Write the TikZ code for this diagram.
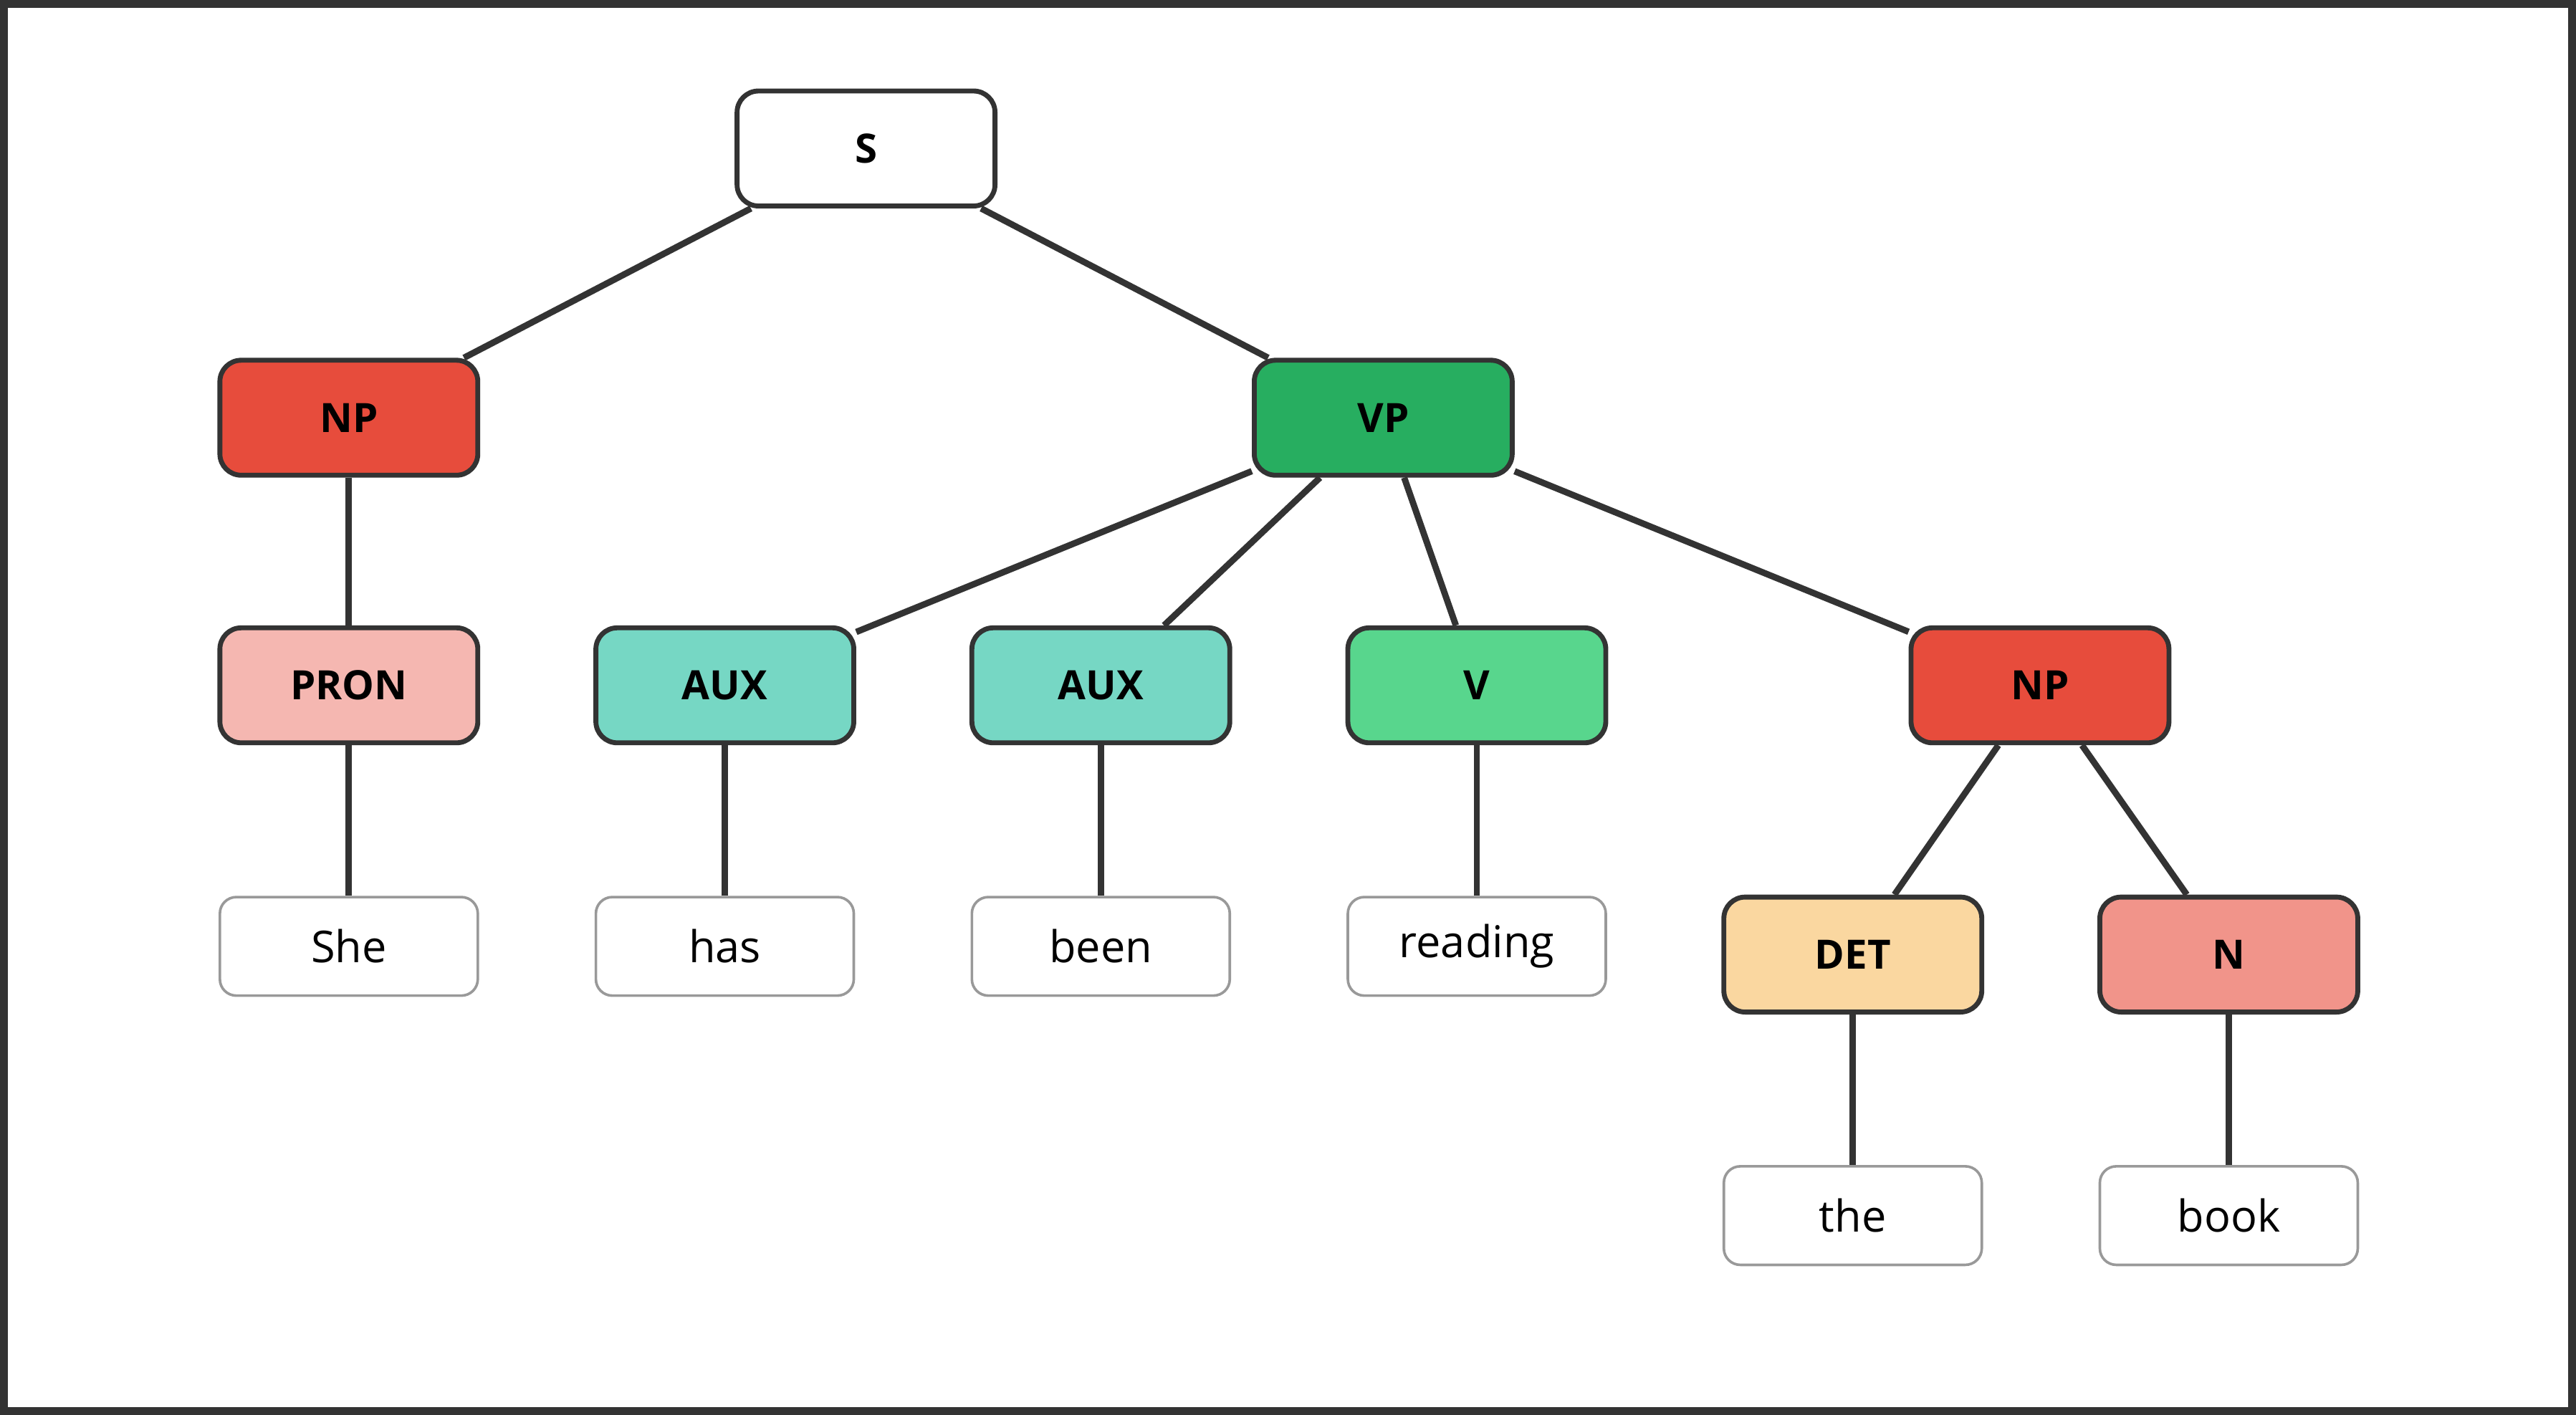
\documentclass[tikz,border=0pt]{standalone}
\usepackage{fontspec}
\setmainfont{Open Sans}
\usepackage{tikz}
\usetikzlibrary{calc}

\definecolor{edgegray}{HTML}{333333}
\definecolor{npred}{HTML}{E74C3C}
\definecolor{vpgreen}{HTML}{27AE60}
\definecolor{pronpink}{HTML}{F5B7B1}
\definecolor{auxteal}{HTML}{76D7C4}
\definecolor{vgreen}{HTML}{58D68D}
\definecolor{detsand}{HTML}{FAD7A0}
\definecolor{nsalmon}{HTML}{F1948A}

\begin{document}
\begin{tikzpicture}[x=0.01cm,y=-0.01cm]
    \tikzset{cat/.style={draw=edgegray,line width=0.85pt,rounded corners=0.13cm,minimum width=1.57cm,minimum height=0.70cm,inner sep=0pt,font=\fontsize{7}{8}\selectfont\bfseries},
             word/.style={draw=black!40,line width=0.45pt,rounded corners=0.1cm,minimum width=1.57cm,minimum height=0.60cm,inner sep=0pt,font=\fontsize{7.6}{9}\selectfont},
             branch/.style={draw=edgegray,line width=1.1pt}}

    %frame
    \draw[edgegray,line width=1.4pt,fill=white] (2,2) rectangle (1566,859);
    \useasboundingbox (0,0) rectangle (1568,861);

    %phrase level
    \node[cat,fill=white] (s) at (527,90) {S};
    \node[cat,fill=npred] (np_a) at (212,254) {NP};
    \node[cat,fill=vpgreen] (vp) at (842,254) {VP};

    %word classes
    \node[cat,fill=pronpink] (pron) at (212,417) {PRON};
    \node[cat,fill=auxteal] (aux_a) at (441,417) {AUX};
    \node[cat,fill=auxteal] (aux_b) at (670,417) {AUX};
    \node[cat,fill=vgreen] (verb) at (899,417) {V};
    \node[cat,fill=npred] (np_b) at (1242,417) {NP};
    \node[cat,fill=detsand] (det) at (1128,581) {DET};
    \node[cat,fill=nsalmon] (noun) at (1357,581) {N};

    %words
    \node[word] (w_she) at (212,576) {She};
    \node[word] (w_has) at (441,576) {has};
    \node[word] (w_been) at (670,576) {been};
    \node[word] (w_reading) at (899,576) {reading};
    \node[word] (w_the) at (1128,740) {the};
    \node[word] (w_book) at (1357,740) {book};

    %branches
    \draw[branch] (s) -- (np_a);
    \draw[branch] (s) -- (vp);
    \draw[branch] (np_a) -- (pron);
    \draw[branch] (vp) -- (aux_a);
    \draw[branch] (vp) -- (aux_b);
    \draw[branch] (vp) -- (verb);
    \draw[branch] (vp) -- (np_b);
    \draw[branch] (np_b) -- (det);
    \draw[branch] (np_b) -- (noun);
    \draw[branch] (pron) -- (w_she);
    \draw[branch] (aux_a) -- (w_has);
    \draw[branch] (aux_b) -- (w_been);
    \draw[branch] (verb) -- (w_reading);
    \draw[branch] (det) -- (w_the);
    \draw[branch] (noun) -- (w_book);
\end{tikzpicture}
\end{document}
